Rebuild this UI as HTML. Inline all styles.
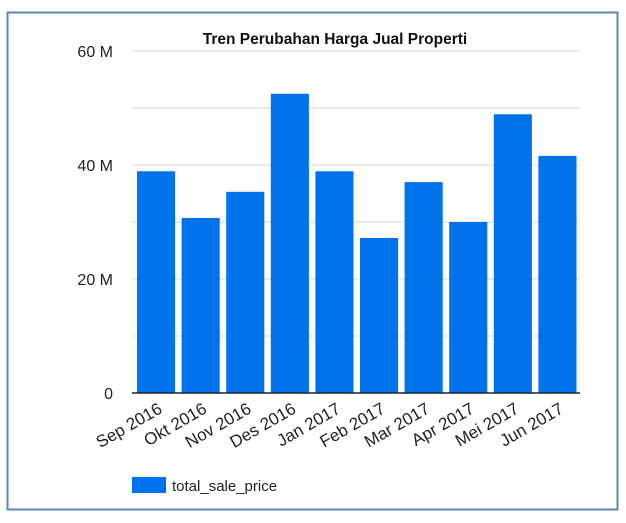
<!DOCTYPE html>
<html><head><meta charset="utf-8"><style>
body{margin:0;background:#fff;}
svg{display:block;font-family:"Liberation Sans",sans-serif;}
</style></head><body>
<svg width="626" height="523">
<rect x="7.5" y="12.5" width="610" height="497" fill="#fff" stroke="#5b87b3" stroke-width="2"/>
<text x="335" y="44" text-anchor="middle" font-size="15.5" font-weight="bold" fill="#111">Tren Perubahan Harga Jual Properti</text>
<g id="grid"></g><g id="bars"></g><g id="xl"></g>
<line x1="132" y1="393" x2="580" y2="393" stroke="#222" stroke-width="1.5"/>
<rect x="132" y="477" width="34" height="16" fill="#0072ea"/>
<text x="172" y="491" font-size="15" fill="#222">total_sale_price</text>
</svg>
<script>
const categories=["Sep 2016","Okt 2016","Nov 2016","Des 2016","Jan 2017","Feb 2017","Mar 2017","Apr 2017","Mei 2017","Jun 2017"];
const values=[38.9,30.7,35.3,52.5,38.9,27.2,37.0,30.0,48.9,41.6];
const ticks=[0,10,20,30,40,50,60];
const tickLabels=["0","","20 M","","40 M","","60 M"];
const NS="http://www.w3.org/2000/svg";
const x0=134,x1=580,y0=393,y1=51,maxV=60;
const y=v=>y0-(v/maxV)*(y0-y1);
const step=(x1-x0)/categories.length;
const grid=document.getElementById('grid'),bars=document.getElementById('bars'),xl=document.getElementById('xl');
ticks.forEach((t,i)=>{
 const l=document.createElementNS(NS,'line');
 l.setAttribute('x1',132);l.setAttribute('x2',580);l.setAttribute('y1',y(t));l.setAttribute('y2',y(t));
 l.setAttribute('stroke','#d6d6d6');l.setAttribute('stroke-width','1');
 
 
 grid.appendChild(l);
 if(tickLabels[i]){
  const tx=document.createElementNS(NS,'text');
  tx.setAttribute('x',113);tx.setAttribute('y',y(t)+6);tx.setAttribute('text-anchor','end');
  tx.setAttribute('font-size','16');tx.setAttribute('fill','#222');tx.textContent=tickLabels[i];
  
  
  grid.appendChild(tx);
 }
});
values.forEach((v,i)=>{
 const r=document.createElementNS(NS,'rect');
 const bx=x0+i*step+3;
 r.setAttribute('x',bx);r.setAttribute('width',step-6.5);
 r.setAttribute('y',y(v));r.setAttribute('height',y0-y(v));r.setAttribute('fill','#0072ea');
 
 
 bars.appendChild(r);
 const t=document.createElementNS(NS,'text');
 const cx=x0+i*step+step/2+7, cy=412;
 t.setAttribute('x',cx);t.setAttribute('y',cy);t.setAttribute('text-anchor','end');
 t.setAttribute('font-size','17');t.setAttribute('fill','#222');
 t.setAttribute('transform','rotate(-30 '+cx+' '+cy+')');
 t.textContent=categories[i];
 
 
 xl.appendChild(t);
});
</script>
</body></html>
